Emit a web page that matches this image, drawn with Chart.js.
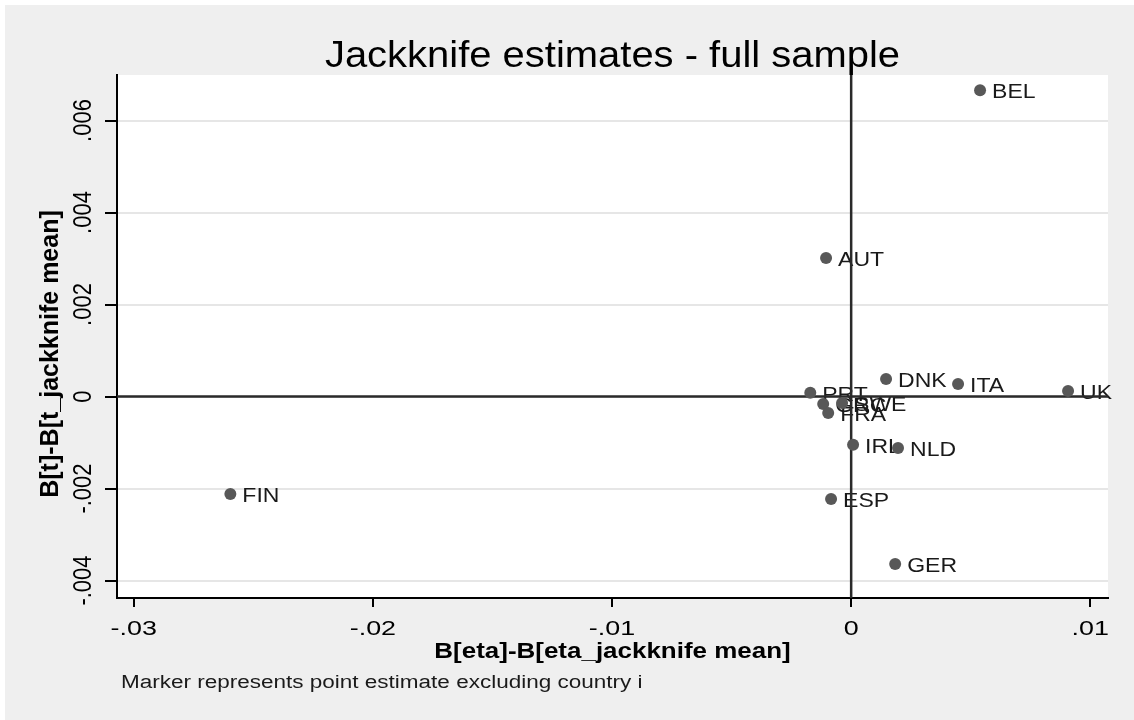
<!DOCTYPE html>
<html>
<head>
<meta charset="utf-8">
<title>Jackknife estimates - full sample</title>
<script src="https://cdn.jsdelivr.net/npm/chart.js@4.4.1/dist/chart.umd.min.js"></script>
<style>
    body { margin: 0; background: #fff; }
    canvas { display: block; }
</style>
</head>
<body>
<canvas id="jackknifeChart" width="1134" height="720"></canvas>
<script>
// Country codes and jackknife deviations
var countries = ['BEL', 'AUT', 'DNK', 'ITA', 'UK', 'PRT', 'GRC', 'FRA', 'SWE', 'IRL', 'NLD', 'ESP', 'GER', 'FIN'];
var etaDiff = [0.00539, -0.00105, 0.00146, 0.00447, 0.00907, -0.00171, -0.00117, -0.00096, -0.00038, 0.00008, 0.00196, -0.00084, 0.00184, -0.02596];
var tDiff = [0.00666, 0.00301, 0.00038, 0.00027, 0.00012, 0.00008, -0.00016, -0.00036, -0.00014, -0.00105, -0.00112, -0.00223, -0.00364, -0.00212];

var xTicks = [-0.03, -0.02, -0.01, 0, 0.01];
var xTickLabels = ['-.03', '-.02', '-.01', '0', '.01'];
var yTicks = [-0.004, -0.002, 0, 0.002, 0.004, 0.006];
var yTickLabels = ['-.004', '-.002', '0', '.002', '.004', '.006'];

var FONT = '"Liberation Sans", Arial, sans-serif';

// Stata-ish text: a bit wider than Arial, sx stretches the glyphs
function stataText(ctx, str, x, y, font, sx, opts) {
    opts = opts || {};
    ctx.save();
    ctx.font = font;
    ctx.fillStyle = opts.color || '#000';
    ctx.textAlign = opts.align || 'left';
    ctx.textBaseline = 'alphabetic';
    ctx.translate(x, y);
    if (opts.vertical) {
        ctx.rotate(-Math.PI / 2);
        ctx.scale(1, sx);
    } else {
        ctx.scale(sx, 1);
    }
    ctx.fillText(str, 0, 0);
    ctx.restore();
}

var backdrop = {
    id: 'backdrop',
    beforeDraw: function(chart) {
        var ctx = chart.ctx, a = chart.chartArea;
        ctx.save();
        ctx.fillStyle = '#ffffff';
        ctx.fillRect(0, 0, chart.width, chart.height);
        ctx.fillStyle = '#efefef';
        ctx.fillRect(5, 5, chart.width - 5, chart.height - 5);
        ctx.fillStyle = '#ffffff';
        ctx.fillRect(a.left, a.top, a.right - a.left, a.bottom - a.top);
        ctx.restore();
    }
};

var stataDecor = {
    id: 'stataDecor',
    beforeDatasetsDraw: function(chart) {
        var ctx = chart.ctx, a = chart.chartArea;
        var xs = chart.scales.x, ys = chart.scales.y;

        // marker labels
        chart.getDatasetMeta(0).data.forEach(function(pt, i) {
            stataText(ctx, countries[i], pt.x + 12, pt.y + 8, '20px ' + FONT, 1.15, { color: '#1a1a1a' });
        });

        // reference lines at zero
        var x0 = xs.getPixelForValue(0), y0 = ys.getPixelForValue(0);
        ctx.save();
        ctx.strokeStyle = '#2a2a2a';
        ctx.lineWidth = 2.5;
        ctx.beginPath();
        ctx.moveTo(x0, a.top);
        ctx.lineTo(x0, a.bottom);
        ctx.moveTo(a.left, y0);
        ctx.lineTo(a.right, y0);
        ctx.stroke();
        ctx.restore();
    },
    afterDraw: function(chart) {
        var ctx = chart.ctx, a = chart.chartArea;
        var xs = chart.scales.x, ys = chart.scales.y;

        // tick labels
        xTicks.forEach(function(v, i) {
            stataText(ctx, xTickLabels[i], xs.getPixelForValue(v), 635, '21px ' + FONT, 1.28, { align: 'center' });
        });
        yTicks.forEach(function(v, i) {
            stataText(ctx, yTickLabels[i], 91, ys.getPixelForValue(v), '22px ' + FONT, 1.15, { align: 'center', vertical: true });
        });

        // titles
        stataText(ctx, 'Jackknife estimates - full sample', (a.left + a.right) / 2, 67, '37px ' + FONT, 1.08, { align: 'center' });
        stataText(ctx, 'B[eta]-B[eta_jackknife mean]', (a.left + a.right) / 2, 658, 'bold 22px ' + FONT, 1.18, { align: 'center' });
        stataText(ctx, 'B[t]-B[t_jackknife mean]', 58, 354, 'bold 25px ' + FONT, 1.0, { align: 'center', vertical: true });
        stataText(ctx, 'Marker represents point estimate excluding country i', 121, 688, '18px ' + FONT, 1.25, { color: '#1a1a1a' });
    }
};

var points = etaDiff.map(function(v, i) {
    return { x: v, y: tDiff[i] };
});

var ctx = document.getElementById('jackknifeChart').getContext('2d');
new Chart(ctx, {
    type: 'scatter',
    data: {
        datasets: [{
            label: 'Jackknife estimates',
            data: points,
            backgroundColor: '#585858',
            borderWidth: 0,
            pointRadius: 6,
            pointHoverRadius: 6
        }]
    },
    options: {
        responsive: false,
        animation: false,
        devicePixelRatio: 1,
        layout: {
            padding: { top: 75, right: 26, left: 0, bottom: 0 }
        },
        plugins: {
            legend: { display: false },
            tooltip: { enabled: false }
        },
        scales: {
            x: {
                type: 'linear',
                min: -0.0307,
                max: 0.01074,
                afterBuildTicks: function(scale) {
                    scale.ticks = xTicks.map(function(v) { return { value: v }; });
                },
                afterFit: function(scale) { scale.height = 122; },
                ticks: { display: false },
                grid: {
                    drawOnChartArea: false,
                    tickLength: 9,
                    tickColor: '#000',
                    lineWidth: 2
                },
                border: { color: '#000', width: 2 }
            },
            y: {
                type: 'linear',
                min: -0.00438,
                max: 0.00699,
                afterBuildTicks: function(scale) {
                    scale.ticks = yTicks.map(function(v) { return { value: v }; });
                },
                afterFit: function(scale) { scale.width = 117; },
                ticks: { display: false },
                grid: {
                    color: '#e6e6e6',
                    tickColor: '#000',
                    tickLength: 12,
                    lineWidth: 2
                },
                border: { color: '#000', width: 2 }
            }
        }
    },
    plugins: [backdrop, stataDecor]
});
</script>
</body>
</html>
